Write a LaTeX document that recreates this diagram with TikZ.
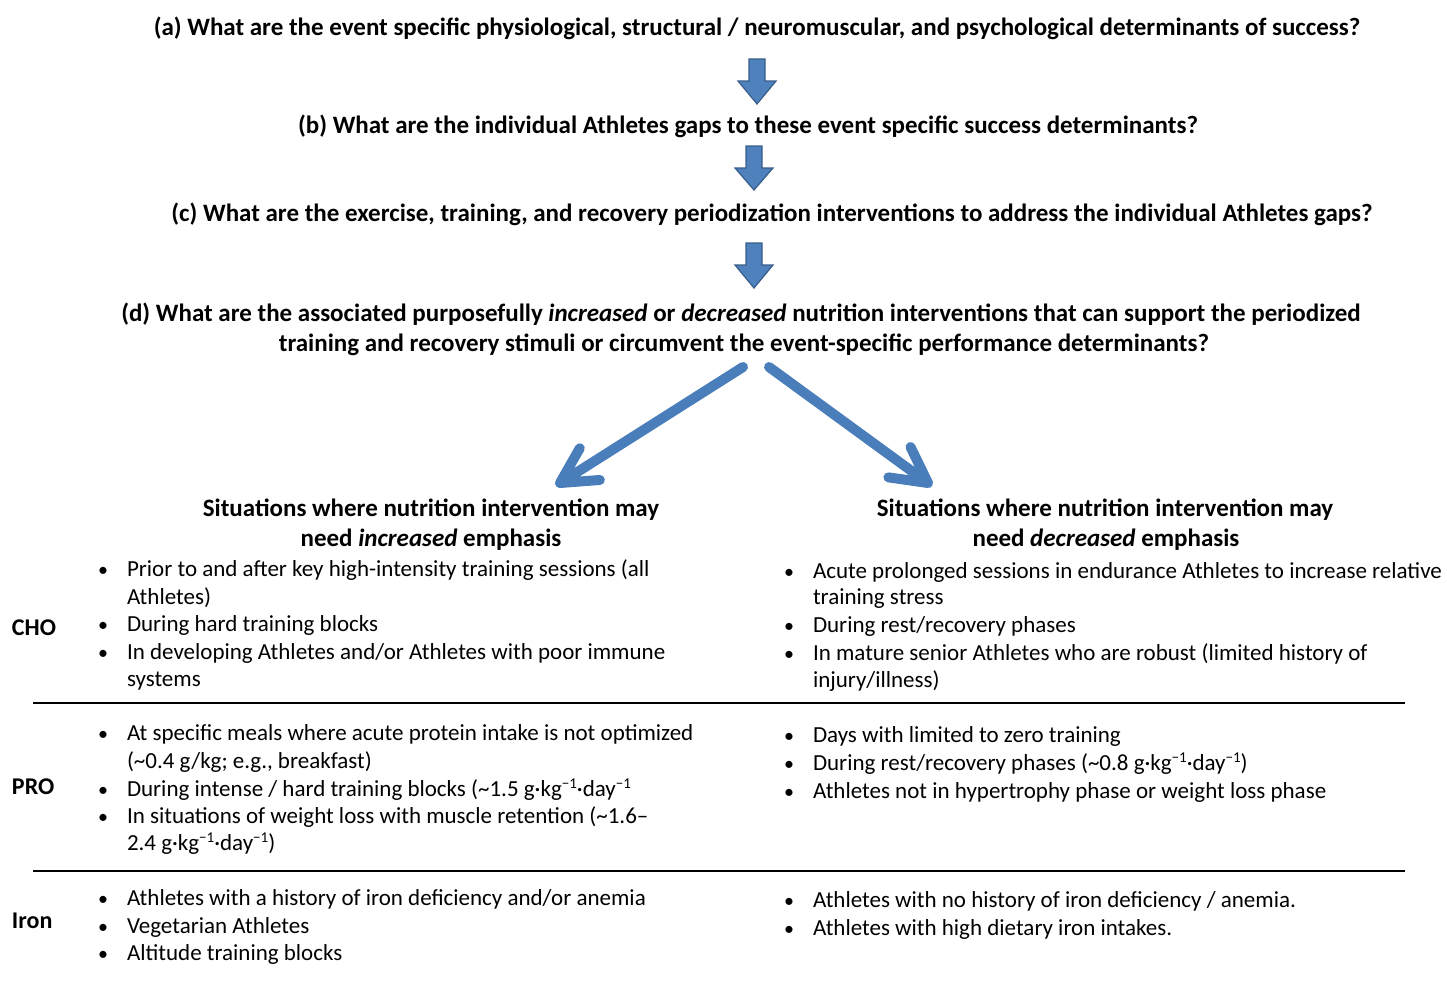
\documentclass[tikz,border=0pt]{standalone}
\usepackage{fontspec}
\setmainfont{Carlito}
\usetikzlibrary{arrows.meta,calc}
\definecolor{ablue}{HTML}{4F81BD}
\definecolor{aborder}{HTML}{385D8A}
\definecolor{lblue}{HTML}{4A7EBB}
\newcommand\mysup[1]{\raisebox{0.33em}{\fontsize{15}{15}\selectfont #1}}
\newcommand\blockarr[3]{%
  \filldraw[fill=ablue,draw=aborder,line width=1.2pt,line join=miter]
    (#1-8,#2) -- (#1+8,#2) -- (#1+8,#2+22) -- (#1+19,#2+22) -- (#1,#3)
    -- (#1-19,#2+22) -- (#1-8,#2+22) -- cycle;}
% bullet item line: name, x of text, baseline y, text
\newcommand\bitem[4]{\node[bul] (#1b) at (#2-24,#3) {•}; \node[itm] (#1) at (#2,#3) {#4};}
\newcommand\citem[4]{\node[itm] (#1) at (#2,#3) {#4};}
\begin{document}
\begin{tikzpicture}[x=1pt,y=-1pt,
  every node/.style={inner sep=0pt,outer sep=0pt},
  title/.style={anchor=base,font=\fontsize{25}{30}\selectfont\bfseries},
  hdr/.style={anchor=base,font=\fontsize{25}{30}\selectfont\bfseries},
  lbl/.style={anchor=base west,font=\fontsize{24}{28}\selectfont\bfseries},
  bul/.style={anchor=base,font=\fontsize{20}{28}\selectfont},
  itm/.style={anchor=base west,font=\fontsize{23}{28}\selectfont},
  diag/.style={lblue,line width=10pt,line cap=round,line join=round},
  rule/.style={line width=1.5pt,black}]
\path[use as bounding box] (0,0) rectangle (1447,980);

% questions
\node[title] (qa) at (757,35) {(a) What are the event specific physiological, structural / neuromuscular, and psychological determinants of success?};
\node[title] (qb) at (748,133) {(b) What are the individual Athletes gaps to these event specific success determinants?};
\node[title] (qc) at (772,221) {(c) What are the exercise, training, and recovery periodization interventions to address the individual Athletes gaps?};
\node[title] (qd1) at (741,321) {(d) What are the associated purposefully \textit{increased} or \textit{decreased} nutrition interventions that can support the periodized};
\node[title] (qd2) at (744,351) {training and recovery stimuli or circumvent the event-specific performance determinants?};

\blockarr{757}{59}{104}
\blockarr{754}{146}{190}
\blockarr{754}{243}{288}

% diagonal arrows
\coordinate (dl0) at (743,367);
\coordinate (dl1) at (560,483);
\coordinate (dr0) at (769,367);
\coordinate (dr1) at (928,483);
\draw[diag] (dl0) -- (dl1) -- ($(dl1)!40pt!28:(dl0)$) (dl1) -- ($(dl1)!40pt!-28:(dl0)$);
\draw[diag] (dr0) -- (dr1) -- ($(dr1)!40pt!28:(dr0)$) (dr1) -- ($(dr1)!40pt!-28:(dr0)$);

% headers
\node[hdr] (hl1) at (431,516) {Situations where nutrition intervention may};
\node[hdr] (hl2) at (431,546) {need \textit{increased} emphasis};
\node[hdr] (hr1) at (1105,516) {Situations where nutrition intervention may};
\node[hdr] (hr2) at (1106,546) {need \textit{decreased} emphasis};

% row labels
\node[lbl] (cho) at (12,635) {CHO};
\node[lbl] (pro) at (12,794) {PRO};
\node[lbl] (iron) at (12,928) {Iron};

% rules
\coordinate (r1a) at (33,703); \coordinate (r1b) at (1405,703);
\coordinate (r2a) at (33,871); \coordinate (r2b) at (1405,871);
\draw[rule] (r1a) -- (r1b);
\draw[rule] (r2a) -- (r2b);

% CHO left
\bitem{c1}{127}{576}{Prior to and after key high-intensity training sessions (all}
\citem{c1x}{127}{604}{Athletes)}
\bitem{c2}{127}{631}{During hard training blocks}
\bitem{c3}{127}{659}{In developing Athletes and/or Athletes with poor immune}
\citem{c3x}{127}{686}{systems}
% CHO right
\bitem{c4}{813}{578}{Acute prolonged sessions in endurance Athletes to increase relative}
\citem{c4x}{813}{604}{training stress}
\bitem{c5}{813}{632}{During rest/recovery phases}
\bitem{c6}{813}{660}{In mature senior Athletes who are robust (limited history of}
\citem{c6x}{813}{687}{injury/illness)}

% PRO left
\bitem{p1}{127}{740}{At specific meals where acute protein intake is not optimized}
\citem{p1x}{127}{768}{(\textasciitilde0.4 g/kg; e.g., breakfast)}
\bitem{p2}{127}{796}{During intense / hard training blocks (\textasciitilde1.5 g·kg\mysup{−1}·day\mysup{−1}}
\bitem{p3}{127}{823}{In situations of weight loss with muscle retention (\textasciitilde1.6–}
\citem{p3x}{127}{850}{2.4 g·kg\mysup{−1}·day\mysup{−1})}
% PRO right
\bitem{p4}{813}{742}{Days with limited to zero training}
\bitem{p5}{813}{770}{During rest/recovery phases (\textasciitilde0.8 g·kg\mysup{−1}·day\mysup{−1})}
\bitem{p6}{813}{798}{Athletes not in hypertrophy phase or weight loss phase}

% Iron left
\bitem{i1}{127}{905}{Athletes with a history of iron deficiency and/or anemia}
\bitem{i2}{127}{933}{Vegetarian Athletes}
\bitem{i3}{127}{960}{Altitude training blocks}
% Iron right
\bitem{i4}{813}{907}{Athletes with no history of iron deficiency / anemia.}
\bitem{i5}{813}{935}{Athletes with high dietary iron intakes.}
\end{tikzpicture}
\end{document}
